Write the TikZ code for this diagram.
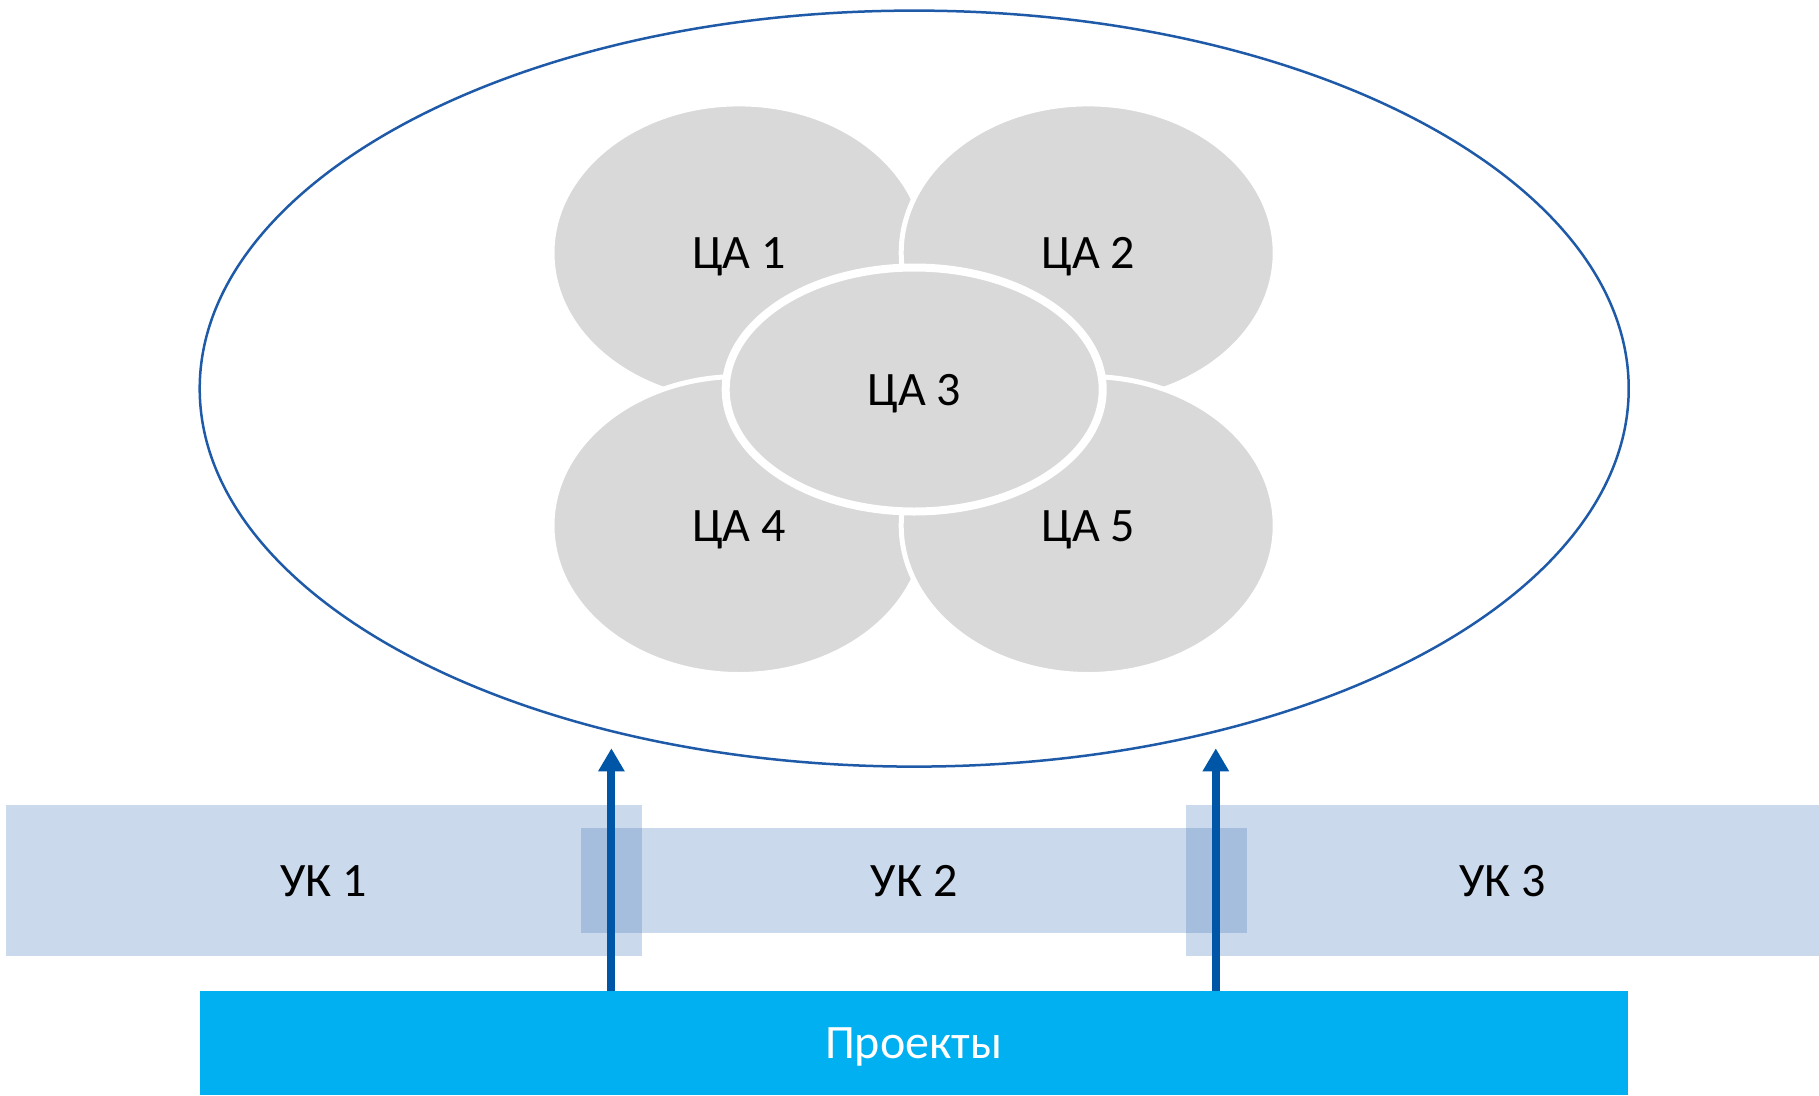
\documentclass[tikz,border=0pt]{standalone}
\usepackage{fontspec}
\setmainfont{Carlito}
\usetikzlibrary{shapes.geometric,arrows.meta}

\definecolor{ringblue}{RGB}{31,90,168}
\definecolor{arrowblue}{RGB}{0,86,166}
\definecolor{petalgray}{RGB}{217,217,217}
\definecolor{ukblue}{RGB}{79,129,189}
\definecolor{projblue}{RGB}{0,176,240}

\tikzset{
    label font/.style={font=\fontsize{48}{56}\selectfont, text height=31pt, text depth=0pt},
    petal/.style={ellipse, fill=petalgray, draw=white, line width=5pt,
        minimum width=374pt, minimum height=298pt, inner sep=0pt, label font},
    core/.style={petal, line width=8pt, minimum width=377pt, minimum height=244pt},
    ukbar/.style={rectangle, fill=ukblue, fill opacity=0.3, text opacity=1,
        minimum height=150.8pt, inner sep=0pt, label font},
    uparrow/.style={draw=arrowblue, line width=8pt,
        -{Triangle[width=25pt,length=23pt]}}
}

\begin{document}
\begin{tikzpicture}[x=1pt, y=-1pt]
    \useasboundingbox (0,0) rectangle (1819,1095);

    % Define nodes
    \node[ellipse, draw=ringblue, line width=2.5pt, minimum width=1429pt,
        minimum height=756pt, inner sep=0pt]	(field)	at (914.2,388.6)	{};

    \node[petal]	(ca1)	at (739.0,252.9)	{ЦА 1};
    \node[petal]	(ca2)	at (1088.2,252.9)	{ЦА 2};
    \node[petal]	(ca4)	at (739.0,525.5)	{ЦА 4};
    \node[petal]	(ca5)	at (1088.2,525.5)	{ЦА 5};
    \node[core]		(ca3)	at (914.2,389.5)	{ЦА 3};

    \node[ukbar, minimum width=635.7pt]		(uk1)	at (323.7,880.5)	{УК 1};
    \node[ukbar, minimum width=665.9pt, minimum height=104.4pt]	(uk2)	at (914.2,880.5)	{УК 2};
    \node[ukbar, minimum width=633.4pt]		(uk3)	at (1502.3,880.5)	{УК 3};

    \node[rectangle, fill=projblue, text=white, minimum width=1428.2pt,
        minimum height=104.3pt, inner sep=0pt, label font]	(proj)	at (913.6,1042.9)	{Проекты};

    % Arrow tips
    \coordinate (tipA) at (611.4,748.3);
    \coordinate (tipB) at (1215.8,748.3);

    % Connect nodes
    \draw[uparrow] (proj.north -| tipA) -- (tipA);
    \draw[uparrow] (proj.north -| tipB) -- (tipB);
\end{tikzpicture}
\end{document}
